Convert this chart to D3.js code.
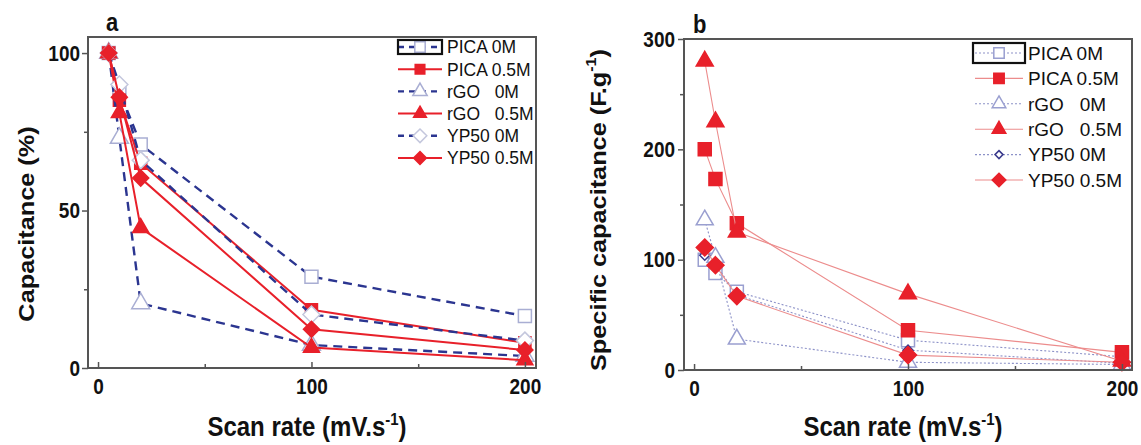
<!DOCTYPE html>
<html><head><meta charset="utf-8">
<script src="https://cdn.jsdelivr.net/npm/d3@7"></script>
<style>
body{margin:0;background:#fff;}
svg text{font-family:"Liberation Sans",Arial,sans-serif;fill:#111;}
.sy{transform-box:fill-box;transform-origin:center;transform:scaleY(1.15);}
.sx{transform-box:fill-box;transform-origin:center;transform:scaleX(1.15);}
</style></head><body>
<svg id="c" width="1141" height="445"></svg>
<script>
// ---- data ----
const scanRate = [5, 10, 20, 100, 200];
const seriesLabels = ["PICA 0M", "PICA 0.5M", "rGO   0M", "rGO   0.5M", "YP50 0M", "YP50 0.5M"];
// panel a: capacitance retention (%)
const retPICA0M  = [100, 88, 71, 29, 16.5];
const retPICA05M = [100, 85, 65, 18.5, 8];
const retRGO0M   = [100, 73, 20.5, 7.3, 3.8];
const retRGO05M  = [100, 81, 44.5, 6.5, 2.5];
const retYP500M  = [100, 90, 66, 17, 8.7];
const retYP5005M = [100, 86, 60.3, 12.3, 5.7];
// panel b: specific capacitance (F/g)
const spcPICA0M  = [100, 88, 71, 27, 12];
const spcPICA05M = [200, 173, 133, 36, 16];
const spcRGO0M   = [136, 102, 28, 7, 5];
const spcRGO05M  = [280, 225, 125, 69, 8];
const spcYP500M  = [104, 96, 68, 18, 6];
const spcYP5005M = [111, 95, 67, 13.5, 7];
// ticks
const xTicks = [0, 100, 200];
const xMinor = [50, 150];
const yTicksA = [0, 50, 100];
const yMinorA = [25, 75];
const yTicksB = [0, 100, 200, 300];
const yMinorB = [50, 150, 250];

// ---- styles ----
const markerShape = ["square", "square", "triangle", "triangle", "diamond", "diamond"];
const RED = "#e8202a";
const styleA = [
  {line:"#2b3590", w:2.4, dash:"9,6", fill:"#fff", stroke:"#a9aed3", size:13},
  {line:RED, w:2, dash:null, fill:RED, stroke:RED, size:12},
  {line:"#2b3590", w:2.4, dash:"9,6", fill:"#fff", stroke:"#a9aed3", size:18},
  {line:RED, w:2, dash:null, fill:RED, stroke:RED, size:16},
  {line:"#2b3590", w:2.4, dash:"9,6", fill:"#fff", stroke:"#c4c7dd", size:17},
  {line:RED, w:2, dash:null, fill:RED, stroke:RED, size:16}
];
const styleB = [
  {line:"#8d92c8", w:1.1, dash:"2,2", fill:"#fff", stroke:"#9a9fd0", size:13},
  {line:"#ec8c8c", w:1.1, dash:null, fill:RED, stroke:RED, size:13},
  {line:"#8d92c8", w:1.1, dash:"2,2", fill:"#fff", stroke:"#9a9fd0", size:17},
  {line:"#ec8c8c", w:1.1, dash:null, fill:RED, stroke:RED, size:17},
  {line:"#8d92c8", w:1.1, dash:"2,2", fill:"#fff", stroke:"#3a3a8c", size:10},
  {line:"#ec8c8c", w:1.1, dash:null, fill:RED, stroke:RED, size:17}
];

function markerPath(shape, s){
  if(shape==="square"){const h=s/2; return `M${-h},${-h}H${h}V${h}H${-h}Z`;}
  if(shape==="triangle"){const ht=s*0.866; return `M0,${-2*ht/3}L${s/2},${ht/3}L${-s/2},${ht/3}Z`;}
  const r=s/2; return `M0,${-r}L${r},0L0,${r}L${-r},0Z`;
}

const svg = d3.select("#c");

const panels = [
  {letter:"a", frame:[88,536,37,368], xDom:[-4.7,205.2], yDom:[0,105.1],
   yMajor:yTicksA, yMinor:yMinorA, yTitle:"Capacitance (%)", yTitleX:34, yTitleY:224, yTitleSize:22,
   series:[retPICA0M,retPICA05M,retRGO0M,retRGO05M,retYP500M,retYP5005M], style:styleA,
   letterX:106, letterY:30,
   legend:{lineX0:398, lineX1:442, symX:420, textX:447, y0:47, dy:22.2, font:17.5, box:[398,40,44,14]}},
  {letter:"b", frame:[684,1132,39,370], xDom:[-4.7,204.7], yDom:[0,300],
   yMajor:yTicksB, yMinor:yMinorB, yTitle:"Specific capacitance (F.g", sup:"-1", yTitleX:606, yTitleY:210, yTitleSize:22,
   series:[spcPICA0M,spcPICA05M,spcRGO0M,spcRGO05M,spcYP500M,spcYP5005M], style:styleB,
   letterX:693, letterY:32,
   legend:{lineX0:975, lineX1:1023, symX:999, textX:1028, y0:53, dy:25.4, font:19, box:[973,43,52,20]}}
];

panels.forEach(p=>{
  const [fx0,fx1,fy0,fy1]=p.frame;
  const x=d3.scaleLinear().domain(p.xDom).range([fx0,fx1]);
  const y=d3.scaleLinear().domain(p.yDom).range([fy1,fy0]);
  const g=svg.append("g");

  // series
  p.series.forEach((vals,i)=>{
    const st=p.style[i];
    const pts=scanRate.map((sr,j)=>[sr,vals[j]]);
    g.append("path").datum(pts)
      .attr("d",d3.line().x(d=>x(d[0])).y(d=>y(d[1])))
      .attr("fill","none").attr("stroke",st.line).attr("stroke-width",st.w)
      .attr("stroke-dasharray",st.dash);
    g.selectAll(null).data(pts).join("path")
      .attr("transform",d=>`translate(${x(d[0])},${y(d[1])})`)
      .attr("d",markerPath(markerShape[i],st.size))
      .attr("fill",st.fill).attr("stroke",st.stroke).attr("stroke-width",1.5);
  });

  // axes
  g.append("g").attr("transform",`translate(0,${fy1})`)
    .call(d3.axisBottom(x).tickValues(xTicks).tickSize(-6).tickPadding(11).tickFormat(d3.format("d")));
  g.append("g").attr("transform",`translate(0,${fy1})`)
    .call(d3.axisBottom(x).tickValues(xMinor).tickSize(-4).tickFormat(""));
  g.append("g").attr("transform",`translate(${fx0},0)`)
    .call(d3.axisLeft(y).tickValues(p.yMajor).tickSize(6).tickPadding(p.letter==="a"?2:3).tickFormat(d3.format("d")));
  g.append("g").attr("transform",`translate(${fx0},0)`)
    .call(d3.axisLeft(y).tickValues(p.yMinor).tickSize(4).tickFormat(""));
  g.selectAll(".domain").remove();
  g.selectAll(".tick line").attr("stroke","#555").attr("stroke-width",1.5);
  g.selectAll(".tick text").attr("font-size",19).attr("font-weight","bold")
    .attr("font-family","'Liberation Sans',Arial,sans-serif").attr("fill","#111").classed("sy",true);

  // frame
  g.append("rect").attr("x",fx0).attr("y",fy0).attr("width",fx1-fx0).attr("height",fy1-fy0)
    .attr("fill","none").attr("stroke","#555").attr("stroke-width",2);

  // letter
  g.append("text").attr("x",p.letterX).attr("y",p.letterY).attr("font-size",22)
    .attr("font-weight","bold").classed("sy",true).text(p.letter);

  // x title
  const xt=g.append("text").attr("x",(fx0+fx1)/2-5).attr("y",435).attr("text-anchor","middle")
    .attr("font-size",24).attr("font-weight","bold").classed("sy",true);
  xt.append("tspan").text("Scan rate (mV.s");
  xt.append("tspan").attr("font-size",15).attr("dy",-10).text("-1");
  xt.append("tspan").attr("dy",10).text(")");

  // y title
  const yg=g.append("g").attr("transform",`translate(${p.yTitleX},${p.yTitleY}) rotate(-90)`);
  const yt=yg.append("text").attr("text-anchor","middle").attr("font-size",p.yTitleSize)
    .attr("font-weight","bold").classed("sx",true);
  yt.append("tspan").text(p.yTitle);
  if(p.sup){
    yt.append("tspan").attr("font-size",14).attr("dy",-10).text(p.sup);
    yt.append("tspan").attr("dy",10).text(")");
  }

  // legend
  const L=p.legend;
  seriesLabels.forEach((lab,i)=>{
    const st=p.style[i];
    const ly=L.y0+i*L.dy;
    g.append("line").attr("x1",L.lineX0).attr("x2",L.lineX1).attr("y1",ly).attr("y2",ly)
      .attr("stroke",st.line).attr("stroke-width",st.w).attr("stroke-dasharray",st.dash? (p.letter==="a"?"6,5":"2,2"):null);
    g.append("path").attr("transform",`translate(${L.symX},${ly})`)
      .attr("d",markerPath(markerShape[i],st.size*0.8))
      .attr("fill",st.fill).attr("stroke",st.stroke).attr("stroke-width",1.5);
    g.append("text").attr("x",L.textX).attr("y",ly).attr("dy","0.36em")
      .attr("font-size",L.font).attr("xml:space","preserve").style("white-space","pre")
      .text(lab);
  });
  g.append("rect").attr("x",L.box[0]).attr("y",L.box[1]).attr("width",L.box[2]).attr("height",L.box[3])
    .attr("fill","none").attr("stroke","#111").attr("stroke-width",2.2);
});
</script>
</body></html>
